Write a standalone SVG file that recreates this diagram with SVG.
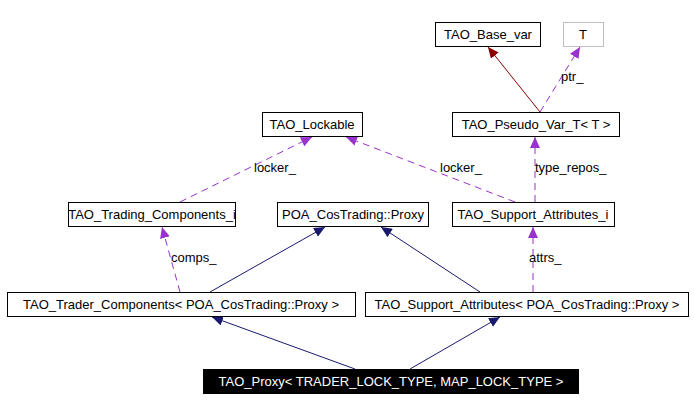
<svg xmlns="http://www.w3.org/2000/svg" width="694" height="411" viewBox="0 0 694 411">
<style>
text{font-family:"Liberation Sans",Arial,sans-serif;font-size:13px}
.n rect{fill:#fff;stroke:#000;stroke-width:1}
.n text{text-anchor:middle}
.inh{stroke:#191970;fill:none}
.use{stroke:#9a32cd;fill:none;stroke-dasharray:7,5}
.red{stroke:#8b0000;fill:none}
</style>
<defs>
<marker id="an" markerWidth="12" markerHeight="10" refX="11" refY="5" orient="auto" markerUnits="userSpaceOnUse"><path d="M0,0L11,5L0,10z" fill="#191970"/></marker>
<marker id="ap" markerWidth="12" markerHeight="10" refX="11" refY="5" orient="auto" markerUnits="userSpaceOnUse"><path d="M0,0L11,5L0,10z" fill="#9a32cd"/></marker>
<marker id="ar" markerWidth="12" markerHeight="10" refX="11" refY="5" orient="auto" markerUnits="userSpaceOnUse"><path d="M0,0L11,5L0,10z" fill="#8b0000"/></marker>
</defs>
<rect width="694" height="411" fill="#fff"/>
<g id="edges">
<path class="red" d="M540,112L488,47" marker-end="url(#ar)"/>
<path class="use" d="M540,112L580,47" marker-end="url(#ap)"/>
<text x="561" y="81">ptr_</text>
<path class="use" d="M535,202L535,137" marker-end="url(#ap)"/>
<text x="535" y="172">type_repos_</text>
<path class="use" d="M515,202L346,137" marker-end="url(#ap)"/>
<text x="440" y="172">locker_</text>
<path class="use" d="M180,202L312,137" marker-end="url(#ap)"/>
<text x="254" y="172">locker_</text>
<path class="use" d="M180,292L162,227" marker-end="url(#ap)"/>
<text x="171" y="262">comps_</text>
<path class="inh" d="M210,292L325,227" marker-end="url(#an)"/>
<path class="inh" d="M480,292L381,227" marker-end="url(#an)"/>
<path class="use" d="M533,292L533,227" marker-end="url(#ap)"/>
<text x="529" y="262">attrs_</text>
<path class="inh" d="M355,369L212,317" marker-end="url(#an)"/>
<path class="inh" d="M410,369L500,317" marker-end="url(#an)"/>
</g>
<g id="base_var" class="n"><rect x="435.5" y="22.5" width="105" height="24"/><text x="488" y="39">TAO_Base_var</text></g>
<g id="T" class="n"><rect x="563.5" y="22.5" width="40" height="24" style="stroke:#bfbfbf"/><text x="583" y="39">T</text></g>
<g id="lockable" class="n"><rect x="262.5" y="112.5" width="100" height="24"/><text x="312" y="129">TAO_Lockable</text></g>
<g id="pseudo" class="n"><rect x="452.5" y="112.5" width="167" height="24"/><text x="536" y="129">TAO_Pseudo_Var_T&lt; T &gt;</text></g>
<g id="tci" class="n"><rect x="68.5" y="202.5" width="167" height="24"/><text x="152" y="219">TAO_Trading_Components_i</text></g>
<g id="poa" class="n"><rect x="277.5" y="202.5" width="151" height="24"/><text x="353" y="219">POA_CosTrading::Proxy</text></g>
<g id="sai" class="n"><rect x="452.5" y="202.5" width="162" height="24"/><text x="533" y="219">TAO_Support_Attributes_i</text></g>
<g id="tc" class="n"><rect x="7.5" y="292.5" width="348" height="24"/><text x="181" y="309">TAO_Trader_Components&lt; POA_CosTrading::Proxy &gt;</text></g>
<g id="sa" class="n"><rect x="365.5" y="292.5" width="323" height="24"/><text x="527" y="309">TAO_Support_Attributes&lt; POA_CosTrading::Proxy &gt;</text></g>
<g id="proxy" class="n"><rect x="203.5" y="369.5" width="375" height="24" style="fill:#000"/><text x="391" y="386" style="fill:#fff">TAO_Proxy&lt; TRADER_LOCK_TYPE, MAP_LOCK_TYPE &gt;</text></g>
</svg>
